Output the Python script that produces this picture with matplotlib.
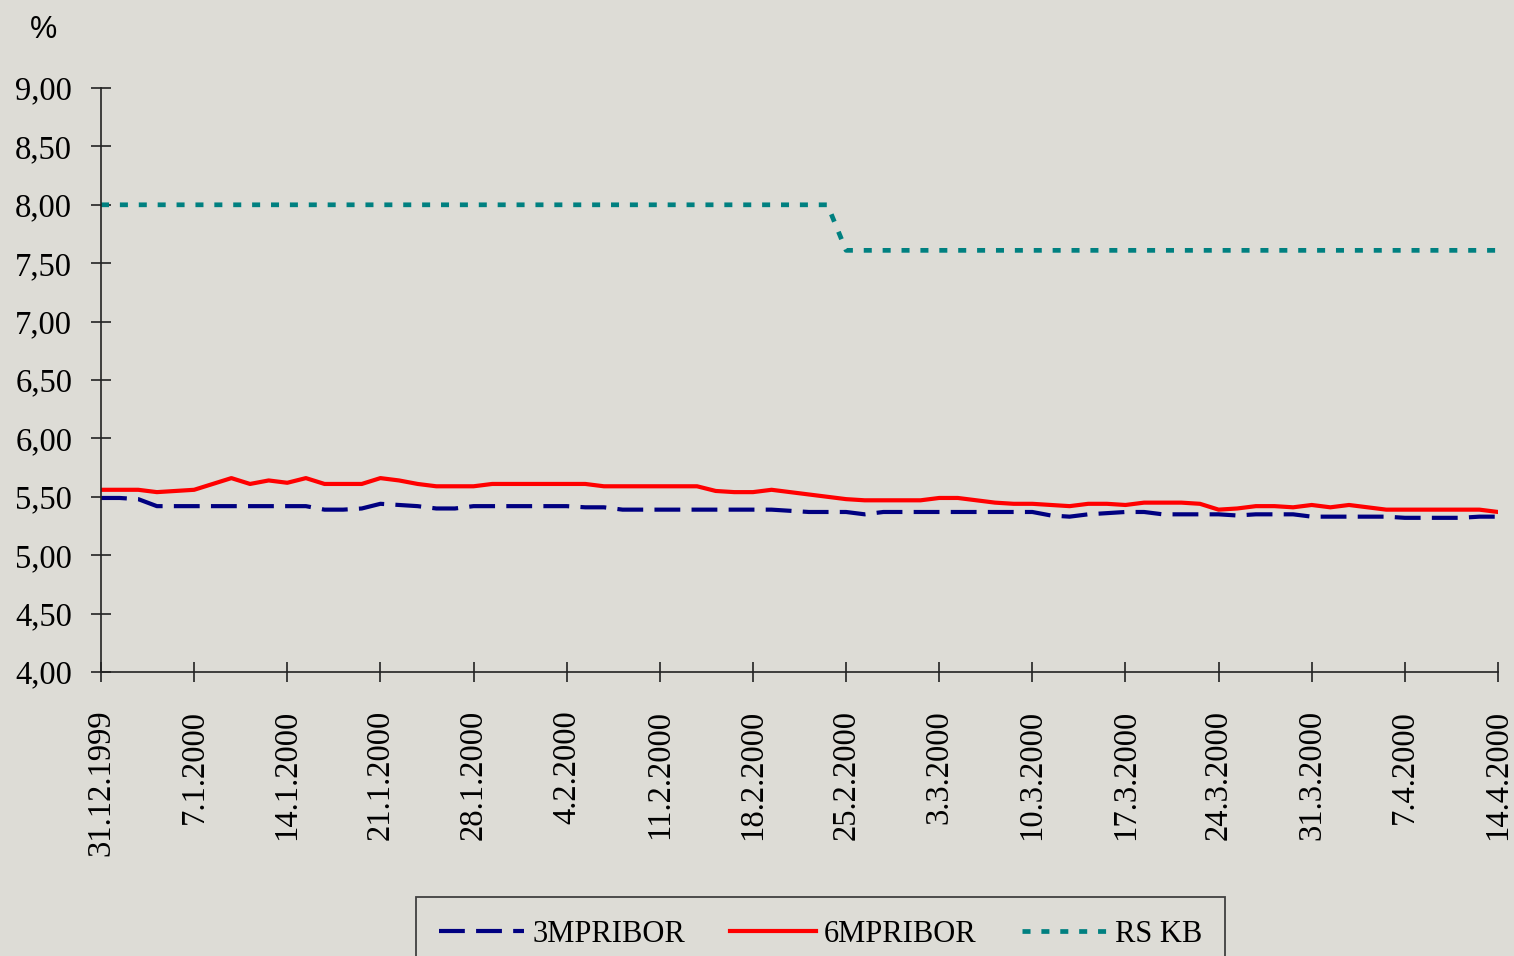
import numpy as np
import matplotlib
matplotlib.use("Agg")
import matplotlib.pyplot as plt

# tick labels (every 5th business day)
tick_labels = ["31.12.1999", "7.1.2000", "14.1.2000", "21.1.2000", "28.1.2000",
               "4.2.2000", "11.2.2000", "18.2.2000", "25.2.2000", "3.3.2000",
               "10.3.2000", "17.3.2000", "24.3.2000", "31.3.2000", "7.4.2000",
               "14.4.2000"]

# 3M PRIBOR
pribor_3m = [5.49, 5.49, 5.48, 5.42, 5.42, 5.42, 5.42, 5.42, 5.42, 5.42,
             5.42, 5.42, 5.39, 5.39, 5.40, 5.44, 5.43, 5.42, 5.40, 5.40,
             5.42, 5.42, 5.42, 5.42, 5.42, 5.42, 5.41, 5.41, 5.39, 5.39,
             5.39, 5.39, 5.39, 5.39, 5.39, 5.39, 5.39, 5.38, 5.37, 5.37,
             5.37, 5.35, 5.37, 5.37, 5.37, 5.37, 5.37, 5.37, 5.37, 5.37,
             5.37, 5.34, 5.33, 5.35, 5.36, 5.37, 5.37, 5.35, 5.35, 5.35,
             5.35, 5.34, 5.35, 5.35, 5.35, 5.33, 5.33, 5.33, 5.33, 5.33,
             5.32, 5.32, 5.32, 5.32, 5.33, 5.33]

# 6M PRIBOR
pribor_6m = [5.56, 5.56, 5.56, 5.54, 5.55, 5.56, 5.61, 5.66, 5.61, 5.64,
             5.62, 5.66, 5.61, 5.61, 5.61, 5.66, 5.64, 5.61, 5.59, 5.59,
             5.59, 5.61, 5.61, 5.61, 5.61, 5.61, 5.61, 5.59, 5.59, 5.59,
             5.59, 5.59, 5.59, 5.55, 5.54, 5.54, 5.56, 5.54, 5.52, 5.50,
             5.48, 5.47, 5.47, 5.47, 5.47, 5.49, 5.49, 5.47, 5.45, 5.44,
             5.44, 5.43, 5.42, 5.44, 5.44, 5.43, 5.45, 5.45, 5.45, 5.44,
             5.39, 5.40, 5.42, 5.42, 5.41, 5.43, 5.41, 5.43, 5.41, 5.39,
             5.39, 5.39, 5.39, 5.39, 5.39, 5.37]

# RS KB
rs_kb = [8.00, 8.00, 8.00, 8.00, 8.00, 8.00, 8.00, 8.00, 8.00, 8.00,
         8.00, 8.00, 8.00, 8.00, 8.00, 8.00, 8.00, 8.00, 8.00, 8.00,
         8.00, 8.00, 8.00, 8.00, 8.00, 8.00, 8.00, 8.00, 8.00, 8.00,
         8.00, 8.00, 8.00, 8.00, 8.00, 8.00, 8.00, 8.00, 8.00, 8.00,
         7.61, 7.61, 7.61, 7.61, 7.61, 7.61, 7.61, 7.61, 7.61, 7.61,
         7.61, 7.61, 7.61, 7.61, 7.61, 7.61, 7.61, 7.61, 7.61, 7.61,
         7.61, 7.61, 7.61, 7.61, 7.61, 7.61, 7.61, 7.61, 7.61, 7.61,
         7.61, 7.61, 7.61, 7.61, 7.61, 7.61]

y_ticks = [4.0, 4.5, 5.0, 5.5, 6.0, 6.5, 7.0, 7.5, 8.0, 8.5, 9.0]

W, H = 1514, 956
bg = "#dddcd6"
fig = plt.figure(figsize=(W / 100, H / 100), dpi=100, facecolor=bg)
ax = fig.add_axes([101 / W, 1 - 672 / H, (1498 - 101) / W, (672 - 88) / H])
ax.set_facecolor(bg)

x = np.arange(len(pribor_6m))
l3, = ax.plot(x, pribor_3m, color="#000080", lw=3.0,
              ls=(0, (6.2, 2.7)), dash_capstyle="butt")
l6, = ax.plot(x, pribor_6m, color="#ff0000", lw=3.0)
lr, = ax.plot(x, rs_kb, color="#008080", lw=3.4,
              ls=(0, (1.7, 2.3)), dash_capstyle="butt")

ax.set_xlim(0, len(x) - 1)
ax.set_ylim(4, 9)
for s in ["top", "right"]:
    ax.spines[s].set_visible(False)
for s in ["left", "bottom"]:
    ax.spines[s].set_linewidth(1.2)
    ax.spines[s].set_color("#222222")

serif = "Liberation Serif"
ax.set_yticks(y_ticks)
ax.set_yticklabels([f"{v:.2f}".replace(".", ",") for v in y_ticks],
                   fontsize=23.5, family=serif)
ax.set_xticks(np.arange(0, len(x), 5))
ax.set_xticklabels(tick_labels, rotation=90, fontsize=23.5, family=serif,
                   va="top", ha="center")
ax.tick_params(axis="both", direction="inout", length=14.4, width=1.2,
               color="#222222")
ax.tick_params(axis="y", pad=13.5)
ax.tick_params(axis="x", pad=20)

fig.text(30 / W, 1 - 38 / H, "%", fontsize=22, family="Liberation Sans",
         ha="left", va="baseline")

leg = fig.legend([l3, l6, lr], ["3MPRIBOR", "6MPRIBOR", "RS KB"],
                 loc="upper left", ncol=3, mode="expand", borderaxespad=0,
                 bbox_to_anchor=(416 / W, -0.1, 809 / W, 1 - 897 / H + 0.1),
                 prop={"family": serif, "size": 22},
                 handlelength=2.8, handletextpad=0.25, borderpad=0.75,
                 fancybox=False, facecolor=bg, framealpha=1,
                 edgecolor="#404040")
leg.get_frame().set_linewidth(1.3)

fig.savefig("out.png", dpi=100, facecolor=bg)
